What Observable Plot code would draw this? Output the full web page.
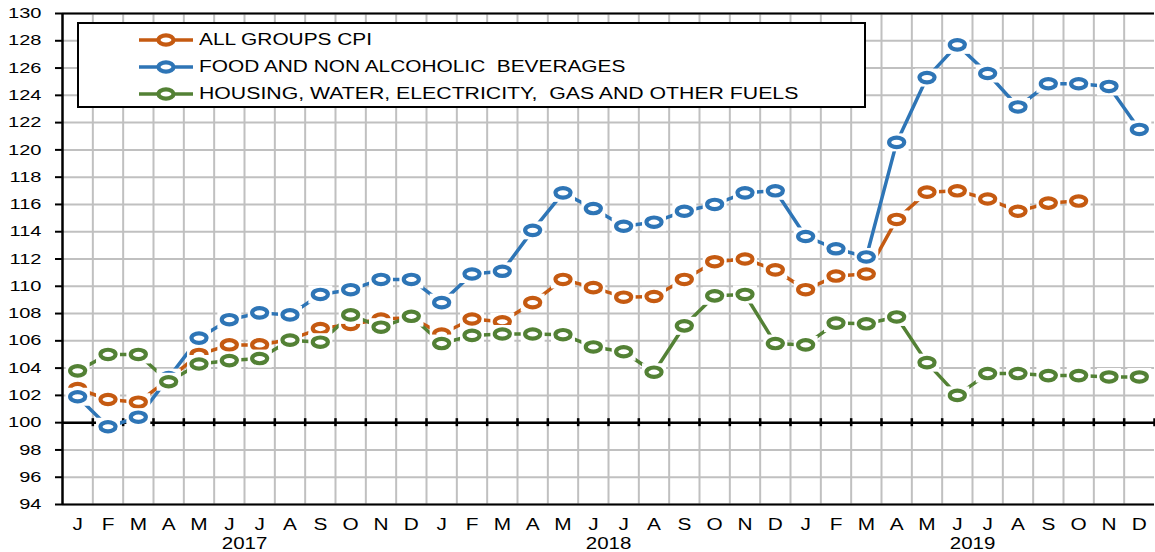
<!DOCTYPE html>
<html><head><meta charset="utf-8">
<script src="https://cdn.jsdelivr.net/npm/d3@7"></script>
<script src="https://cdn.jsdelivr.net/npm/@observablehq/plot@0.6"></script>
<style>
body{margin:0;background:#fff;font-family:"Liberation Sans",Arial,sans-serif;}
#wrap{position:relative;width:1155px;height:552px;overflow:hidden;}
#legend{position:absolute;left:77px;top:22px;width:789px;height:86px;box-sizing:border-box;border:2px solid #000;background:#fff;}
.row{position:absolute;left:0;width:100%;height:20px;}
.row svg{position:absolute;left:59px;top:0;}
.row span{position:absolute;left:120px;top:0;height:20px;line-height:20px;font-size:15.8px;white-space:pre;transform:scaleX(1.32);transform-origin:left center;display:inline-block;color:#000;}
</style></head><body><div id="wrap"></div>
<script>
const months = ["J","F","M","A","M","J","J","A","S","O","N","D"];
const years = ["2017","2018","2019"];
const seriesNames = ["ALL GROUPS CPI", "FOOD AND NON ALCOHOLIC  BEVERAGES", "HOUSING, WATER, ELECTRICITY,  GAS AND OTHER FUELS"];
const seriesColors = ["#C55A11", "#2E75B6", "#538135"];
const yTicks = [94,96,98,100,102,104,106,108,110,112,114,116,118,120,122,124,126,128,130];

const allGroups = [102.5, 101.7, 101.5, 103.2, 105.0, 105.7, 105.7, 106.1, 106.9, 107.2, 107.6, 107.7,
  106.5, 107.6, 107.4, 108.8, 110.5, 109.9, 109.2, 109.25, 110.5, 111.8, 112.0, 111.2,
  109.75, 110.75, 110.9, 114.9, 116.9, 117.0, 116.4, 115.5, 116.1, 116.25, null, null];
const food = [101.9, 99.7, 100.4, 103.3, 106.2, 107.55, 108.05, 107.9, 109.4, 109.75, 110.5, 110.5,
  108.8, 110.9, 111.1, 114.1, 116.85, 115.7, 114.4, 114.7, 115.5, 116.0, 116.85, 117.0,
  113.65, 112.75, 112.15, 120.55, 125.3, 127.7, 125.6, 123.15, 124.85, 124.85, 124.65, 121.5];
const housing = [103.8, 105.0, 105.0, 103.0, 104.3, 104.55, 104.7, 106.05, 105.9, 107.9, 107.0, 107.8,
  105.8, 106.4, 106.5, 106.5, 106.45, 105.55, 105.2, 103.7, 107.1, 109.3, 109.4, 105.8,
  105.7, 107.3, 107.25, 107.75, 104.4, 102.0, 103.6, 103.6, 103.45, 103.45, 103.35, 103.35];

const seriesValues = [allGroups, food, housing];
const nMonths = months.length * years.length;
const idx = d3.range(nMonths);
const boundaries = d3.range(nMonths + 1).map(k => k - 0.5);

const rows = seriesValues.map((vals, s) => vals.map((v, i) => ({i, v, s})).filter(d => d.v != null));

const ellipseSym = {
  draw(context, size) {
    const r = Math.sqrt(size / Math.PI);
    const rx = 1.6 * r, ry = r, k = 0.5523;
    context.moveTo(rx, 0);
    context.bezierCurveTo(rx, k * ry, k * rx, ry, 0, ry);
    context.bezierCurveTo(-k * rx, ry, -rx, k * ry, -rx, 0);
    context.bezierCurveTo(-rx, -k * ry, -k * rx, -ry, 0, -ry);
    context.bezierCurveTo(k * rx, -ry, rx, -k * ry, rx, 0);
    context.closePath();
  }
};
const boxSym = {
  draw(context, size) {
    const r = Math.sqrt(size / Math.PI);
    context.rect(-1.33 * r, -r, 2.66 * r, 2 * r);
  }
};

const marks = [
  Plot.ruleY(yTicks, {stroke: "#c0c0c0", strokeWidth: 2}),
  Plot.ruleX(boundaries.slice(1, -1), {stroke: "#c0c0c0", strokeWidth: 2}),
  Plot.ruleY([yTicks[0], yTicks[yTicks.length - 1]], {stroke: "#000", strokeWidth: 2}),
  Plot.ruleY([100], {stroke: "#000", strokeWidth: 2.5}),
  Plot.ruleX(boundaries.slice(1), {x: d => d, y1: 100, y2: 100, insetTop: -4, insetBottom: -4, stroke: "#000", strokeWidth: 2.5}),
  Plot.ruleX([boundaries[0]], {stroke: "#000", strokeWidth: 2.5}),
  Plot.ruleY(yTicks, {y: d => d, x1: boundaries[0], x2: boundaries[0], insetLeft: -7, stroke: "#000", strokeWidth: 2}),
  Plot.text(yTicks, {y: d => d, frameAnchor: "left", dx: -21, textAnchor: "end", lineAnchor: "middle", text: d => String(d), fill: "#000", fontSize: 14.5}),
  Plot.text(idx, {x: d => d, frameAnchor: "bottom", dy: 20, lineAnchor: "middle", text: i => months[i % 12], fill: "#000", fontSize: 16}),
  Plot.text(years, {x: (d, k) => k * 12 + 5.5, frameAnchor: "bottom", dy: 39, lineAnchor: "middle", text: d => d, fill: "#000", fontSize: 16})
];
rows.forEach((r, s) => marks.push(Plot.line(r, {x: "i", y: "v", stroke: seriesColors[s], strokeWidth: 3.5})));
rows.forEach((r, s) => {
  marks.push(Plot.dot(r, {x: "i", y: "v", symbol: boxSym, r: 9, fill: "white", stroke: "none"}));
  marks.push(Plot.dot(r, {x: "i", y: "v", symbol: ellipseSym, r: 4.7, fill: "white", stroke: seriesColors[s], strokeWidth: 4.2}));
});

const chart = Plot.plot({
  width: 1155, height: 552,
  marginLeft: 62, marginRight: 1, marginTop: 13, marginBottom: 48,
  x: {domain: [boundaries[0], boundaries[boundaries.length - 1]], axis: null},
  y: {domain: [yTicks[0], yTicks[yTicks.length - 1]], axis: null},
  style: {fontFamily: "'Liberation Sans', Arial, sans-serif", fontSize: "16px", color: "#000", background: "#fff", overflow: "visible"},
  marks
});
document.getElementById("wrap").appendChild(chart);

function stretch(group, s) {
  if (!group) return;
  d3.select(group).selectAll("text").each(function() {
    const L = this.getComputedTextLength();
    if (L > 0) {
      this.setAttribute("textLength", (L * s).toFixed(2));
      this.setAttribute("lengthAdjust", "spacingAndGlyphs");
    }
  });
}
const textGroups = d3.select(chart).selectAll('g[aria-label="text"]').nodes();
stretch(textGroups[0], 1.38);
stretch(textGroups[1], 1.3);
stretch(textGroups[2], 1.28);

// legend
const legend = document.createElement("div");
legend.id = "legend";
const rowCenters = [16, 43, 70];
seriesNames.forEach((name, s) => {
  const row = document.createElement("div");
  row.className = "row";
  row.style.top = (rowCenters[s] - 10) + "px";
  const svg = d3.create("svg").attr("width", 56).attr("height", 20);
  svg.append("line").attr("x1", 1).attr("x2", 55).attr("y1", 10).attr("y2", 10)
    .attr("stroke", seriesColors[s]).attr("stroke-width", 3.5);
  svg.append("ellipse").attr("cx", 28).attr("cy", 10).attr("rx", 7.5).attr("ry", 4.7)
    .attr("fill", "white").attr("stroke", seriesColors[s]).attr("stroke-width", 4.2);
  row.appendChild(svg.node());
  const sp = document.createElement("span");
  sp.textContent = name;
  if (s === 2) sp.style.transform = "scaleX(1.345)";
  row.appendChild(sp);
  legend.appendChild(row);
});
document.getElementById("wrap").appendChild(legend);
</script></body></html>
